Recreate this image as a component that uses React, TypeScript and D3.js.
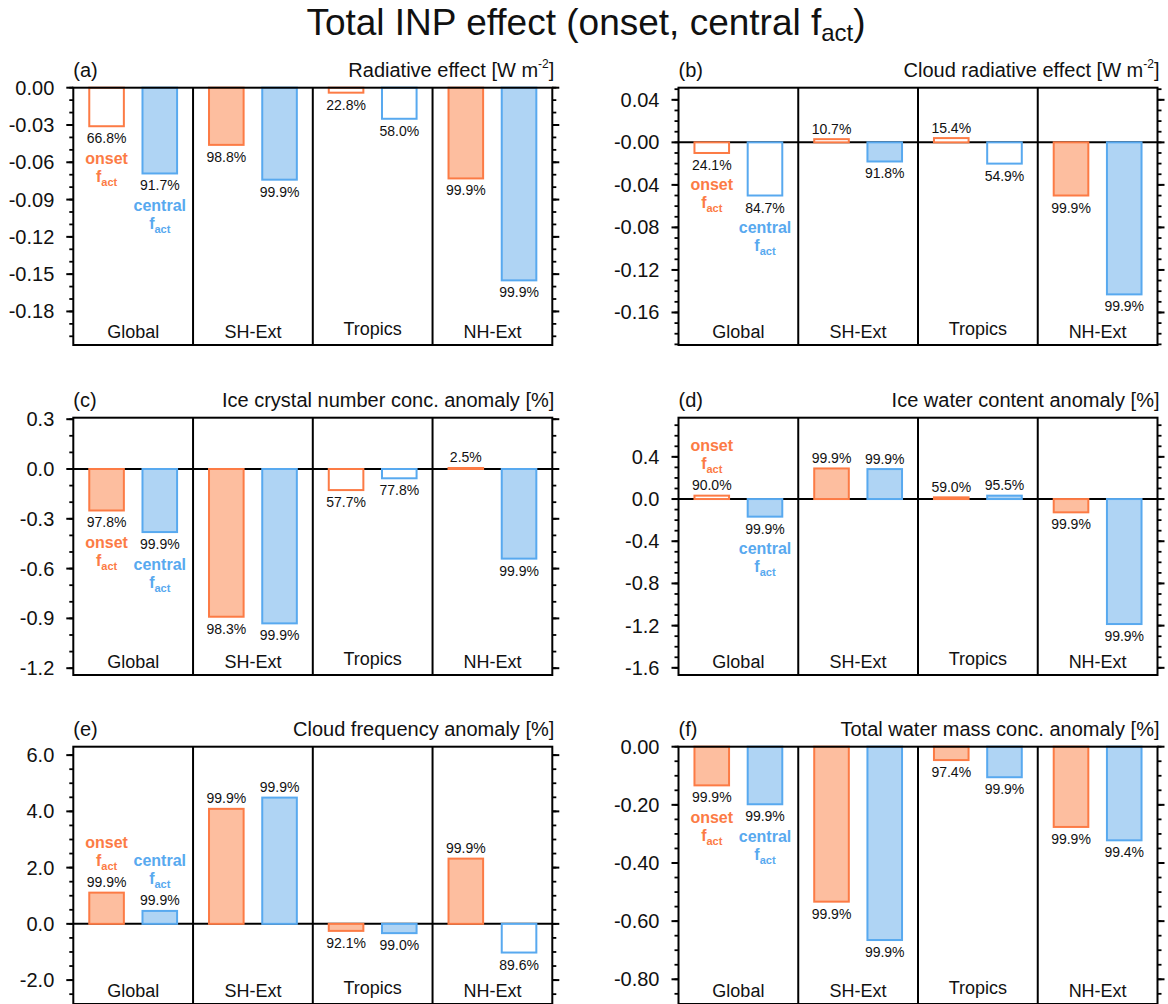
import React from "react";
import * as d3 from "d3";

// ---------- data ----------
const categories = ["Global", "SH-Ext", "Tropics", "NH-Ext"];
const seriesNames = ["onset", "central"];

// (a) Radiative effect
const radOnset = [-0.031, -0.046, -0.004, -0.073];
const radCentral = [-0.069, -0.074, -0.025, -0.155];
const radOnsetSig = ["66.8%", "98.8%", "22.8%", "99.9%"];
const radCentralSig = ["91.7%", "99.9%", "58.0%", "99.9%"];
const radRange = [-0.207, 0];
const radTicks = [0, -0.03, -0.06, -0.09, -0.12, -0.15, -0.18];
const radTickLabels = ["0.00", "-0.03", "-0.06", "-0.09", "-0.12", "-0.15", "-0.18"];

// (b) Cloud radiative effect
const creOnset = [-0.010, 0.003, 0.004, -0.050];
const creCentral = [-0.050, -0.018, -0.020, -0.143];
const creOnsetSig = ["24.1%", "10.7%", "15.4%", "99.9%"];
const creCentralSig = ["84.7%", "91.8%", "54.9%", "99.9%"];
const creRange = [-0.1906, 0.0514];
const creTicks = [0.04, 0, -0.04, -0.08, -0.12, -0.16];
const creTickLabels = ["0.04", "-0.00", "-0.04", "-0.08", "-0.12", "-0.16"];

// (c) Ice crystal number conc. anomaly
const icncOnset = [-0.25, -0.89, -0.127, 0.006];
const icncCentral = [-0.38, -0.93, -0.056, -0.54];
const icncOnsetSig = ["97.8%", "98.3%", "57.7%", "2.5%"];
const icncCentralSig = ["99.9%", "99.9%", "77.8%", "99.9%"];
const icncRange = [-1.241, 0.309];
const icncTicks = [0.3, 0, -0.3, -0.6, -0.9, -1.2];
const icncTickLabels = ["0.3", "0.0", "-0.3", "-0.6", "-0.9", "-1.2"];

// (d) Ice water content anomaly
const iwcOnset = [0.032, 0.29, 0.016, -0.126];
const iwcCentral = [-0.167, 0.284, 0.032, -1.185];
const iwcOnsetSig = ["90.0%", "99.9%", "59.0%", "99.9%"];
const iwcCentralSig = ["99.9%", "99.9%", "95.5%", "99.9%"];
const iwcRange = [-1.668, 0.771];
const iwcTicks = [0.4, 0, -0.4, -0.8, -1.2, -1.6];
const iwcTickLabels = ["0.4", "0.0", "-0.4", "-0.8", "-1.2", "-1.6"];

// (e) Cloud frequency anomaly
const cfOnset = [1.11, 4.09, -0.25, 2.32];
const cfCentral = [0.46, 4.49, -0.33, -1.02];
const cfOnsetSig = ["99.9%", "99.9%", "92.1%", "99.9%"];
const cfCentralSig = ["99.9%", "99.9%", "99.0%", "89.6%"];
const cfRange = [-2.85, 6.3];
const cfTicks = [6, 4, 2, 0, -2];
const cfTickLabels = ["6.0", "4.0", "2.0", "0.0", "-2.0"];

// (f) Total water mass conc. anomaly
const twOnset = [-0.133, -0.533, -0.046, -0.276];
const twCentral = [-0.198, -0.665, -0.105, -0.322];
const twOnsetSig = ["99.9%", "99.9%", "97.4%", "99.9%"];
const twCentralSig = ["99.9%", "99.9%", "99.9%", "99.4%"];
const twRange = [-0.885, 0];
const twTicks = [0, -0.2, -0.4, -0.6, -0.8];
const twTickLabels = ["0.00", "-0.20", "-0.40", "-0.60", "-0.80"];

const significanceThreshold = 90;

// ---------- styling ----------
const W = 1168;
const H = 1004;
const FONT = "'Liberation Sans', Arial, Helvetica, sans-serif";
const colX = [73.3, 678.5];
const rowY = [87.7, 417.7, 746.7];
const PW = 479;
const PH = 257.3;
const stroke = { onset: "#FC7B45", central: "#58A9EF" };
const fill = { onset: "#FDBE9F", central: "#AFD4F4" };

const panels = [
  { tag: "(a)", title: "Radiative effect [W m", sup: "-2", after: "]", onset: radOnset, central: radCentral, onsetSig: radOnsetSig, centralSig: radCentralSig, range: radRange, ticks: radTicks, tickLabels: radTickLabels, minor: 0.01, col: 0, row: 0 },
  { tag: "(b)", title: "Cloud radiative effect [W m", sup: "-2", after: "]", onset: creOnset, central: creCentral, onsetSig: creOnsetSig, centralSig: creCentralSig, range: creRange, ticks: creTicks, tickLabels: creTickLabels, minor: 0.01, col: 1, row: 0 },
  { tag: "(c)", title: "Ice crystal number conc. anomaly [%]", onset: icncOnset, central: icncCentral, onsetSig: icncOnsetSig, centralSig: icncCentralSig, range: icncRange, ticks: icncTicks, tickLabels: icncTickLabels, minor: 0.1, col: 0, row: 1 },
  { tag: "(d)", title: "Ice water content anomaly [%]", onset: iwcOnset, central: iwcCentral, onsetSig: iwcOnsetSig, centralSig: iwcCentralSig, range: iwcRange, ticks: iwcTicks, tickLabels: iwcTickLabels, minor: 0.1, col: 1, row: 1 },
  { tag: "(e)", title: "Cloud frequency anomaly [%]", onset: cfOnset, central: cfCentral, onsetSig: cfOnsetSig, centralSig: cfCentralSig, range: cfRange, ticks: cfTicks, tickLabels: cfTickLabels, minor: 0.5, col: 0, row: 2 },
  { tag: "(f)", title: "Total water mass conc. anomaly [%]", onset: twOnset, central: twCentral, onsetSig: twOnsetSig, centralSig: twCentralSig, range: twRange, ticks: twTicks, tickLabels: twTickLabels, minor: 0.05, col: 1, row: 2 },
];

function Panel({ p }: { p: any }) {
  const x0 = colX[p.col];
  const y0 = rowY[p.row];
  const y = d3.scaleLinear().domain(p.range).range([y0 + PH, y0]);
  const xOuter = d3.scaleBand().domain(categories).range([x0, x0 + PW]);
  const xInner = d3
    .scaleBand()
    .domain(seriesNames)
    .range([0, xOuter.bandwidth()])
    .paddingInner(0.35)
    .paddingOuter(0.3);
  const bw = xInner.bandwidth();
  const y0v = y(0);

  const lo = Math.ceil(p.range[0] / p.minor - 1e-6);
  const hi = Math.floor(p.range[1] / p.minor + 1e-6);
  const minors = d3.range(lo, hi + 1).map((k) => k * p.minor);

  const bars: any[] = [];
  const texts: any[] = [];
  categories.forEach((cat, i) => {
    seriesNames.forEach((s) => {
      const v = p[s][i];
      const sig = p[s + "Sig"][i];
      const filled = parseFloat(sig) > significanceThreshold;
      const xb = (xOuter(cat) as number) + (xInner(s) as number);
      const cx = xb + bw / 2;
      const yv = y(v);
      bars.push(
        <rect
          key={`b-${cat}-${s}`}
          x={xb}
          y={Math.min(yv, y0v)}
          width={bw}
          height={Math.abs(yv - y0v)}
          fill={filled ? (fill as any)[s] : "white"}
          stroke={(stroke as any)[s]}
          strokeWidth={2}
        />
      );
      const labelCenter = v >= 0 ? yv - 10.5 : yv + 12;
      texts.push(
        <text key={`l-${cat}-${s}`} x={cx} y={labelCenter + 5} textAnchor="middle" fontSize={14} fill="#111">
          {sig}
        </text>
      );
      if (i === 0) {
        const nameC = v >= 0 ? labelCenter - 40 : labelCenter + 20;
        const factC = v >= 0 ? labelCenter - 20 : labelCenter + 39.5;
        texts.push(
          <text key={`n-${s}`} x={cx} y={nameC + 5.5} textAnchor="middle" fontSize={16} fontWeight="bold" fill={(stroke as any)[s]}>
            {s}
          </text>
        );
        texts.push(
          <text key={`f-${s}`} x={cx} y={factC + 4} textAnchor="middle" fontSize={16} fontWeight="bold" fill={(stroke as any)[s]}>
            f<tspan fontSize={11} dy={4}>act</tspan>
          </text>
        );
      }
    });
  });

  return (
    <g fontFamily={FONT}>
      {p.range[0] < 0 && p.range[1] > 0 && (
        <line x1={x0} x2={x0 + PW} y1={y0v} y2={y0v} stroke="black" strokeWidth={2} />
      )}
      {bars}
      {texts}
      {categories.slice(1).map((cat) => (
        <line key={`sep-${cat}`} x1={xOuter(cat)} x2={xOuter(cat)} y1={y0} y2={y0 + PH} stroke="black" strokeWidth={2} />
      ))}
      {categories.map((cat) => (
        <text
          key={`c-${cat}`}
          x={(xOuter(cat) as number) + xOuter.bandwidth() / 2}
          y={y0 + PH - 7 - (/[gjpqy]/.test(cat) ? 3 : 0)}
          textAnchor="middle"
          fontSize={18}
          fill="#111"
        >
          {cat}
        </text>
      ))}
      {minors.map((t) => (
        <g key={`m-${t}`}>
          <line x1={x0 - 4} x2={x0} y1={y(t)} y2={y(t)} stroke="black" strokeWidth={1.8} />
          <line x1={x0 + PW} x2={x0 + PW + 4} y1={y(t)} y2={y(t)} stroke="black" strokeWidth={1.8} />
        </g>
      ))}
      {p.ticks.map((t: number, k: number) => (
        <g key={`t-${k}`}>
          <line x1={x0 - 7} x2={x0} y1={y(t)} y2={y(t)} stroke="black" strokeWidth={2} />
          <line x1={x0 + PW} x2={x0 + PW + 7} y1={y(t)} y2={y(t)} stroke="black" strokeWidth={2} />
          <text x={x0 - 19} y={y(t) + 7} textAnchor="end" fontSize={20} fill="#111">
            {p.tickLabels[k]}
          </text>
        </g>
      ))}
      <rect x={x0} y={y0} width={PW} height={PH} fill="none" stroke="black" strokeWidth={2} />
      <text x={x0} y={y0 - 11} fontSize={20} fill="#111">
        {p.tag}
      </text>
      <text x={x0 + PW + 2} y={y0 - 11} textAnchor="end" fontSize={20} fill="#111">
        {p.title}
        {p.sup && (
          <tspan fontSize={12} dy={-9}>
            {p.sup}
          </tspan>
        )}
        {p.after && <tspan dy={9}>{p.after}</tspan>}
      </text>
    </g>
  );
}

export default function App() {
  return (
    <svg
      width={W}
      height={H}
      viewBox={`0 0 ${W} ${H}`}
      style={{ position: "absolute", left: 0, top: 0, background: "white" }}
    >
      <rect x={0} y={0} width={W} height={H} fill="white" />
      <text x={586} y={35} textAnchor="middle" fontSize={37} fontFamily={FONT} fill="#111">
        Total INP effect (onset, central f<tspan fontSize={24} dy={6}>act</tspan>
        <tspan dy={-6}>)</tspan>
      </text>
      {panels.map((p) => (
        <Panel key={p.tag} p={p} />
      ))}
    </svg>
  );
}
